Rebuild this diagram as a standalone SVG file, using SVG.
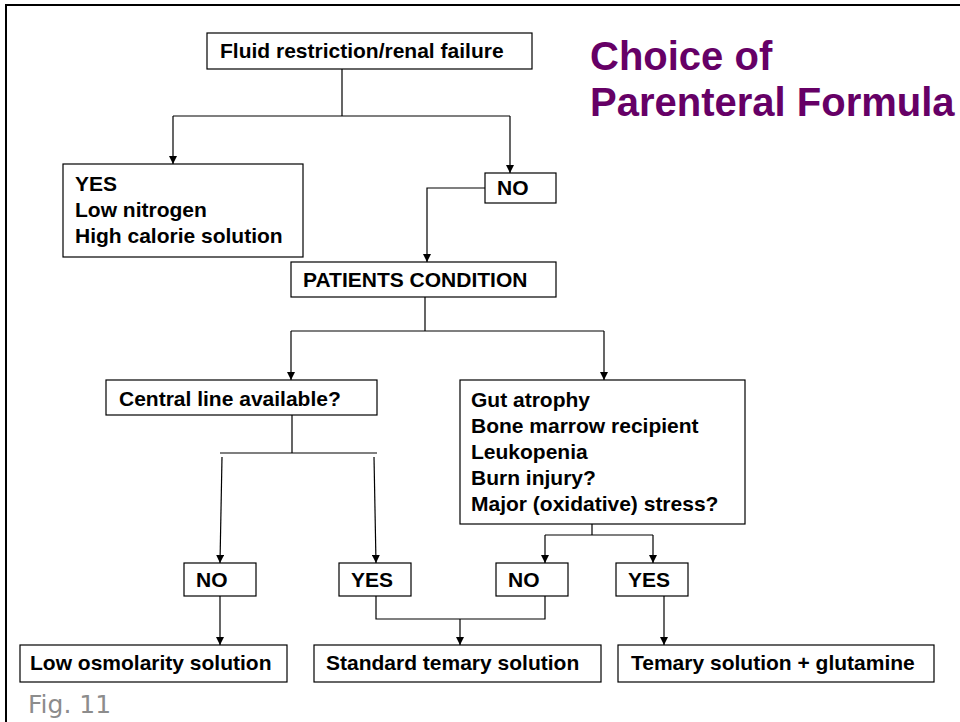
<svg xmlns="http://www.w3.org/2000/svg" width="960" height="722" viewBox="0 0 960 722">
<defs>
<marker id="ah" viewBox="0 0 8 8" refX="8" refY="4" markerWidth="8" markerHeight="8" markerUnits="userSpaceOnUse" orient="auto">
<path d="M0,0 L8,4 L0,8 z" fill="#000"/>
</marker>
<style>
.box{fill:#fff;stroke:#000;stroke-width:1.2}
.t{font-family:"Liberation Sans",Arial,sans-serif;font-weight:bold;font-size:21px;fill:#000}
.c{fill:none;stroke:#000;stroke-width:1.2}
.a{fill:none;stroke:#000;stroke-width:1.2;marker-end:url(#ah)}
.title{font-family:"Liberation Sans",Arial,sans-serif;font-weight:bold;font-size:40px;fill:#660066}
.fig{font-family:"DejaVu Sans",sans-serif;font-size:25px;fill:#8c8c8c}
</style>
</defs>
<rect width="960" height="722" fill="#fff"/>
<path d="M6,722 V5 H960" fill="none" stroke="#000" stroke-width="2"/>

<g id="title">
<text class="title" x="590" y="70">Choice of</text>
<text class="title" x="590" y="116">Parenteral Formula</text>
</g>

<g id="connectors">
<path class="c" d="M342,69 V116 M173,116 H510"/>
<path class="a" d="M173,116 V164"/>
<path class="a" d="M510,116 V173"/>
<path class="a" d="M485,188 H427 V262"/>
<path class="c" d="M425,297 V331 M291,331 H604"/>
<path class="a" d="M291,331 V380"/>
<path class="a" d="M604,331 V380"/>
<path class="c" d="M292,415 V453 M220,453 H377"/>
<path class="a" d="M222,457 L220,563"/>
<path class="a" d="M374,457 L376,563"/>
<path class="c" d="M592,524 V535 M545,535 H653"/>
<path class="a" d="M545,535 V563"/>
<path class="a" d="M653,535 V563"/>
<path class="a" d="M220,596 V645"/>
<path class="c" d="M376,596 V619 H545 V596"/>
<path class="a" d="M460,619 V645"/>
<path class="a" d="M664,596 V645"/>
</g>

<g id="fluid">
<rect class="box" x="207" y="33" width="325" height="36"/>
<text class="t" x="220" y="58">Fluid restriction/renal failure</text>
</g>
<g id="yes-top">
<rect class="box" x="63" y="164" width="240" height="93"/>
<text class="t" x="75" y="191">YES</text>
<text class="t" x="75" y="217">Low nitrogen</text>
<text class="t" x="75" y="243">High calorie solution</text>
</g>
<g id="no-top">
<rect class="box" x="485" y="173" width="71" height="30"/>
<text class="t" x="497" y="195">NO</text>
</g>
<g id="patients">
<rect class="box" x="291" y="262" width="265" height="35"/>
<text class="t" x="303" y="287">PATIENTS CONDITION</text>
</g>
<g id="central">
<rect class="box" x="106" y="380" width="271" height="35"/>
<text class="t" x="119" y="406">Central line available?</text>
</g>
<g id="gut">
<rect class="box" x="460" y="380" width="285" height="144"/>
<text class="t" x="471" y="407">Gut atrophy</text>
<text class="t" x="471" y="433">Bone marrow recipient</text>
<text class="t" x="471" y="459">Leukopenia</text>
<text class="t" x="471" y="485">Burn injury?</text>
<text class="t" x="471" y="511">Major (oxidative) stress?</text>
</g>
<g id="no1">
<rect class="box" x="184" y="563" width="72" height="33"/>
<text class="t" x="196" y="587">NO</text>
</g>
<g id="yes1">
<rect class="box" x="339" y="563" width="72" height="33"/>
<text class="t" x="351" y="587">YES</text>
</g>
<g id="no2">
<rect class="box" x="496" y="563" width="72" height="33"/>
<text class="t" x="508" y="587">NO</text>
</g>
<g id="yes2">
<rect class="box" x="616" y="563" width="72" height="33"/>
<text class="t" x="628" y="587">YES</text>
</g>
<g id="lowosm">
<rect class="box" x="20" y="645" width="267" height="37"/>
<text class="t" x="30" y="670">Low osmolarity solution</text>
</g>
<g id="standard">
<rect class="box" x="314" y="645" width="287" height="37"/>
<text class="t" x="326" y="670">Standard temary solution</text>
</g>
<g id="glutamine">
<rect class="box" x="618" y="645" width="316" height="37"/>
<text class="t" x="631" y="670">Temary solution + glutamine</text>
</g>
<text class="fig" x="28" y="713">Fig. 11</text>
</svg>
